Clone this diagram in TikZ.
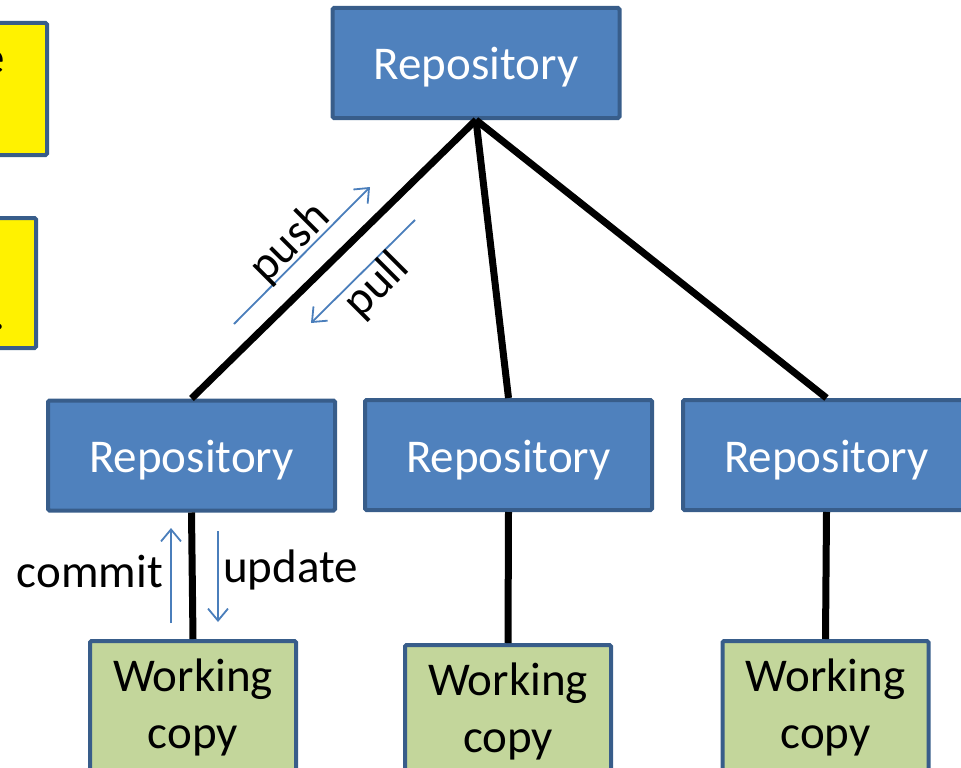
\documentclass[tikz,border=0pt]{standalone}
\usepackage{fontspec}
\setmainfont{Carlito}
\usetikzlibrary{arrows.meta}
\definecolor{repofill}{HTML}{4F81BD}
\definecolor{boxedge}{HTML}{385D8A}
\definecolor{wcfill}{HTML}{C3D69B}
\definecolor{arrowblue}{HTML}{4A7EBB}
\tikzset{
  repo/.style={draw=boxedge, line width=4pt, fill=repofill, rounded corners=1.5pt,
    minimum width=287pt, minimum height=110pt, inner sep=0pt, text=white,
    text height=42pt, text depth=8pt,
    font=\fontsize{47}{56}\selectfont},
  wcopy/.style={draw=boxedge, line width=4pt, fill=wcfill, rounded corners=1.5pt,
    minimum width=206pt, minimum height=133pt, inner sep=0pt, align=center,
    font=\fontsize{47}{57}\selectfont},
  note/.style={draw=boxedge, line width=4pt, fill=yellow, rounded corners=1.5pt},
  link/.style={line width=7pt, black},
  flow/.style={arrowblue, line width=1.8pt, -{Straight Barb[length=12pt,width=20pt,line width=1.8pt]}},
  lbl/.style={font=\fontsize{47}{56}\selectfont, inner sep=0pt}
}
\begin{document}
\begin{tikzpicture}[x=1pt,y=-1pt]
\useasboundingbox (0,0) rectangle (961,768);
% partly visible notes at the left edge
\draw[note] (-200,23) rectangle (47,155);
\draw[note] (-200,218) rectangle (36,348);
\node[lbl, anchor=base east] (n1) at (5,74) {e};
\node[lbl, anchor=base east] (n2) at (6,329) {.};
% repositories
\node[repo] (top) at (476,63) {Repository};
\node[repo] (r1) at (191.5,455.5) {Repository};
\node[repo] (r2) at (508.5,455) {Repository};
\node[repo] (r3) at (826.5,455) {Repository};
% working copies
\node[wcopy] (w1) at (193,707.5) {Working\\copy};
\node[wcopy] (w2) at (508,711.5) {Working\\copy};
\node[wcopy] (w3) at (825.5,707.5) {Working\\copy};
% links
\draw[link] (top.south) -- (r1.north);
\draw[link] (top.south) -- (r2.north);
\draw[link] (top.south) -- (r3.north);
\draw[link] (r1.south) -- (w1.north);
\draw[link] (r2.south) -- (w2.north);
\draw[link] (r3.south) -- (w3.north);
% push / pull
\coordinate (pushA) at (234,324);
\coordinate (pushB) at (370,187);
\coordinate (pullA) at (415,220);
\coordinate (pullB) at (311,323);
\draw[flow] (pushA) -- (pushB);
\draw[flow] (pullA) -- (pullB);
\node[lbl, rotate=45] (push) at (290,243) {push};
\node[lbl, rotate=45] (pull) at (377,286) {pull};
% commit / update
\coordinate (comA) at (171,623);
\coordinate (comB) at (171,528);
\coordinate (updA) at (218,531);
\coordinate (updB) at (218,622);
\draw[flow] (comA) -- (comB);
\draw[flow] (updA) -- (updB);
\node[lbl, anchor=east] (commit) at (163,571) {commit};
\node[lbl, anchor=west] (update) at (223,570) {update};
\end{tikzpicture}
\end{document}
